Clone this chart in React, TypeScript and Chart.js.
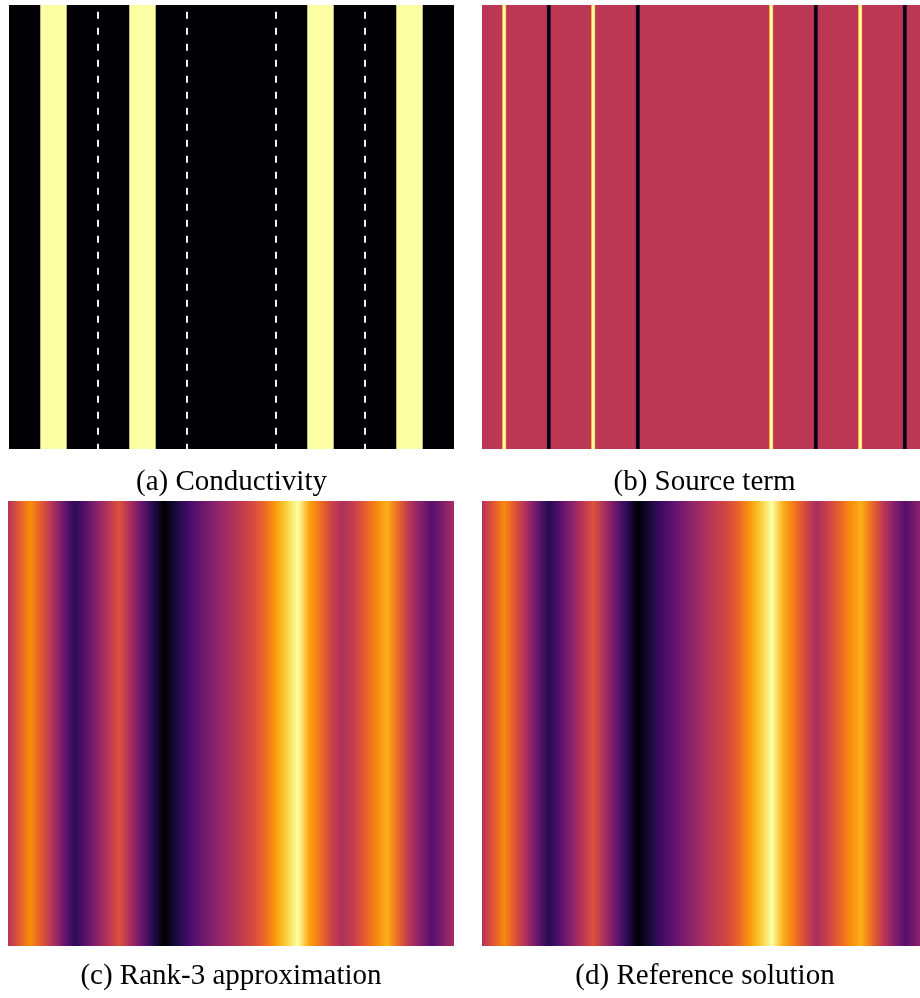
import React, { useEffect, useRef } from "react";
import { Chart, registerables } from "chart.js";

Chart.register(...registerables);

// ---------- inferno colormap (stops at 0, 0.05, ..., 1) ----------
const INFERNO = [
  "#000004", "#0b0724", "#160b39", "#2a0b56", "#420a68", "#570f6d", "#6a176e",
  "#7f1e6c", "#932667", "#a82e5f", "#bc3754", "#cc4248", "#dd513a", "#ea632a",
  "#f37819", "#f98e09", "#fca50a", "#fac127", "#f6d746", "#f1ee74", "#fcffa4",
];

function hexToRgb(h: string): number[] {
  return [parseInt(h.slice(1, 3), 16), parseInt(h.slice(3, 5), 16), parseInt(h.slice(5, 7), 16)];
}
const INFERNO_RGB = INFERNO.map(hexToRgb);

function inferno(v: number): string {
  const t = Math.max(0, Math.min(1, v)) * (INFERNO_RGB.length - 1);
  const i = Math.min(INFERNO_RGB.length - 2, Math.floor(t));
  const f = t - i;
  const a = INFERNO_RGB[i];
  const b = INFERNO_RGB[i + 1];
  const c = a.map((ai, k) => Math.round(ai + (b[k] - ai) * f));
  return `rgb(${c[0]},${c[1]},${c[2]})`;
}

// ---------- data ----------
// (a) Conductivity: high-conductivity stripes, subdomain boundaries
const stripeStart = [0.07, 0.27, 0.67, 0.87];
const stripeEnd = [0.13, 0.33, 0.73, 0.93];
const highConductivity = 1;
const lowConductivity = 0;
const subdomainX = [0.2, 0.4, 0.6, 0.8];

// (b) Source term: point sources (colormap value), background value
const sourceX = [0.05, 0.15, 0.25, 0.35, 0.65, 0.75, 0.85, 0.95];
const sourceValue = [1, 0, 1, 0, 1, 0, 1, 0];
const sourceBackground = 0.5;
const sourceWidth = 0.01;
const sourceProfileOffset = [-0.5, -0.2, 0.2, 0.5];
const sourceProfileWeight = [0.5, 1, 1, 0.5];

// (c), (d) sampled solution values (normalised colormap value) along x
const sampleX = [
  0, 0.025, 0.05, 0.075, 0.1, 0.125, 0.15, 0.175, 0.2, 0.225, 0.25, 0.275, 0.3, 0.325,
  0.35, 0.375, 0.4, 0.425, 0.45, 0.475, 0.5, 0.525, 0.55, 0.575, 0.6, 0.625, 0.65,
  0.675, 0.7, 0.725, 0.75, 0.775, 0.8, 0.825, 0.85, 0.875, 0.9, 0.925, 0.95, 0.975, 1,
];
const rank3Values = [
  0.48, 0.62, 0.75, 0.62, 0.47, 0.3, 0.15, 0.26, 0.38, 0.49, 0.6, 0.45, 0.29, 0.14,
  0.0, 0.1, 0.19, 0.27, 0.34, 0.4, 0.46, 0.52, 0.58, 0.66, 0.78, 0.89, 1.0,
  0.8, 0.68, 0.55, 0.46, 0.53, 0.63, 0.73, 0.82, 0.66, 0.49, 0.36, 0.25, 0.35, 0.45,
];
const referenceValues = [
  0.48, 0.61, 0.74, 0.6, 0.45, 0.29, 0.14, 0.25, 0.37, 0.49, 0.6, 0.45, 0.3, 0.15,
  0.0, 0.1, 0.19, 0.26, 0.33, 0.4, 0.46, 0.52, 0.57, 0.65, 0.77, 0.88, 1.0,
  0.82, 0.7, 0.57, 0.45, 0.54, 0.64, 0.74, 0.82, 0.66, 0.5, 0.36, 0.24, 0.35, 0.45,
];

const captions = ["(a) Conductivity", "(b) Source term", "(c) Rank-3 approximation", "(d) Reference solution"];

// ---------- helpers ----------
function gradientFill(xs: number[], vs: number[]) {
  return (ctx: any) => {
    const chart = ctx.chart;
    const sx = chart.scales && chart.scales.x;
    if (!chart.chartArea || !sx) return inferno(vs[0]);
    const p0 = sx.getPixelForValue(xs[0]);
    const p1 = sx.getPixelForValue(xs[xs.length - 1]);
    const g = chart.ctx.createLinearGradient(p0, 0, p1, 0);
    xs.forEach((x, i) => {
      const o = (sx.getPixelForValue(x) - p0) / (p1 - p0);
      g.addColorStop(Math.max(0, Math.min(1, o)), inferno(vs[i]));
    });
    return g;
  };
}

function rectDataset(x0: number, x1: number, color: any) {
  return {
    type: "line",
    data: [
      { x: x0, y: 1 },
      { x: x1, y: 1 },
    ],
    fill: "start",
    backgroundColor: color,
    borderColor: "rgba(0,0,0,0)",
    borderWidth: 0,
    pointRadius: 0,
  };
}

function dashDataset(x: number) {
  return {
    type: "line",
    data: [
      { x, y: 1 },
      { x, y: 0 },
    ],
    fill: false,
    borderColor: "#f0f0f0",
    borderWidth: 2,
    borderDash: [7, 9],
    borderDashOffset: 9.3,
    pointRadius: 0,
  };
}

function panelDatasets(kind: string): any[] {
  // first dataset is drawn on top
  if (kind === "a") {
    const ds: any[] = subdomainX.map((x) => dashDataset(x));
    stripeStart.forEach((s, i) => ds.push(rectDataset(s, stripeEnd[i], inferno(highConductivity))));
    ds.push(rectDataset(0, 1, inferno(lowConductivity)));
    return ds;
  }
  if (kind === "b") {
    const ds: any[] = sourceX.map((x, i) => {
      const xs = sourceProfileOffset.map((o) => x + o * sourceWidth);
      const vs = sourceProfileWeight.map((w) => sourceBackground + (sourceValue[i] - sourceBackground) * w);
      return rectDataset(xs[0], xs[xs.length - 1], gradientFill(xs, vs));
    });
    ds.push(rectDataset(0, 1, inferno(sourceBackground)));
    return ds;
  }
  const vals = kind === "c" ? rank3Values : referenceValues;
  return [rectDataset(0, 1, gradientFill(sampleX, vals))];
}

type PanelProps = { kind: string; caption: string; left: number; top: number; w: number; h: number; capPad: number };

function Panel({ kind, caption, left, top, w, h, capPad }: PanelProps) {
  const ref = useRef<HTMLCanvasElement | null>(null);
  useEffect(() => {
    if (!ref.current) return;
    const chart = new Chart(ref.current, {
      type: "line",
      data: { datasets: panelDatasets(kind) as any },
      options: {
        animation: false,
        responsive: false,
        devicePixelRatio: 1,
        events: [],
        layout: { padding: 0 },
        elements: { point: { radius: 0 }, line: { tension: 0 } },
        scales: {
          x: { type: "linear", min: 0, max: 1, display: false },
          y: { type: "linear", min: 0, max: 1, display: false },
        },
        plugins: {
          legend: { display: false },
          tooltip: { enabled: false },
          title: {
            display: true,
            text: caption,
            position: "bottom",
            color: "#000",
            font: { family: '"Liberation Serif", "Times New Roman", serif', size: 29, weight: "normal", lineHeight: 1 },
            padding: { top: capPad, bottom: 0 },
          },
        },
      } as any,
    });
    return () => chart.destroy();
  }, [kind, caption]);
  return (
    <canvas
      ref={ref}
      width={w}
      height={h}
      style={{ position: "absolute", left, top, width: w, height: h, display: "block" }}
    />
  );
}

export default function App() {
  return (
    <div
      style={{
        position: "fixed",
        left: 0,
        top: 0,
        width: 920,
        height: 998,
        overflow: "hidden",
        background: "#fff",
      }}
    >
      <Panel kind="a" caption={captions[0]} left={9} top={5} w={445} h={492} capPad={19} />
      <Panel kind="b" caption={captions[1]} left={482} top={5} w={445} h={492} capPad={19} />
      <Panel kind="c" caption={captions[2]} left={8} top={501} w={446} h={490} capPad={16} />
      <Panel kind="d" caption={captions[3]} left={482} top={501} w={446} h={490} capPad={16} />
    </div>
  );
}
